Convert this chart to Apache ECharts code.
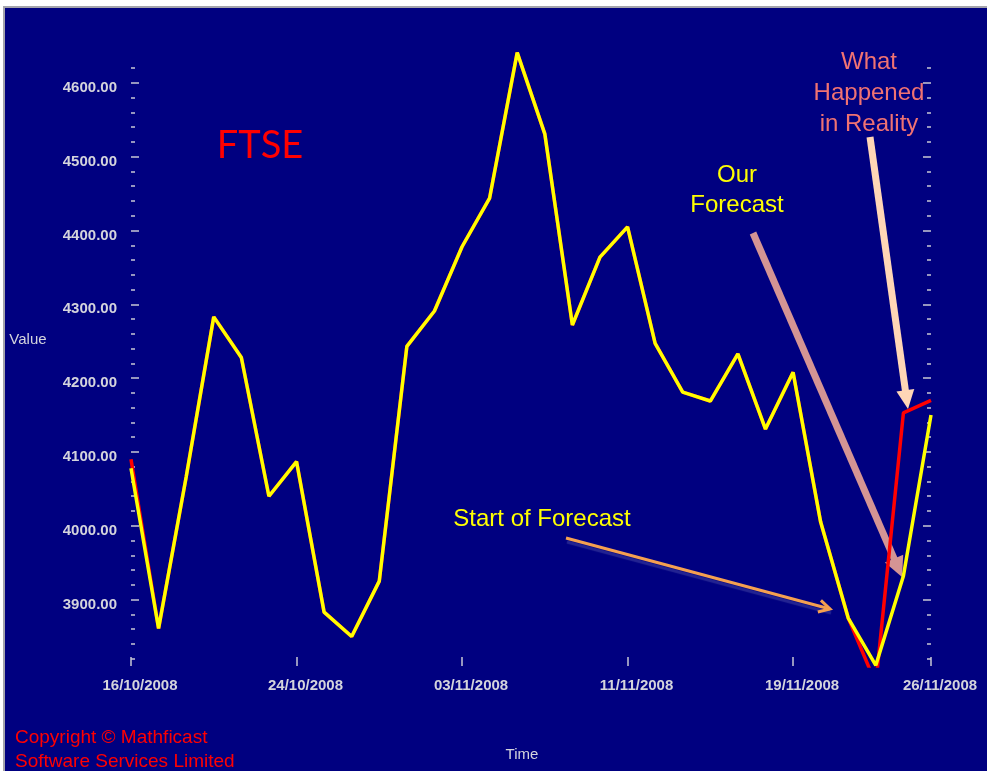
<!DOCTYPE html>
<html>
<head>
<meta charset="utf-8">
<script src="https://cdn.jsdelivr.net/npm/echarts@6/dist/echarts.min.js"></script>
<style>
  html, body { margin: 0; padding: 0; background: #fff; }
  #chart { width: 987px; height: 771px; }
</style>
</head>
<body>
<div id="chart"></div>
<script>
// trading days, first to last
var dates = ['16/10/2008','17/10/2008','20/10/2008','21/10/2008','22/10/2008','23/10/2008','24/10/2008',
  '27/10/2008','28/10/2008','29/10/2008','30/10/2008','31/10/2008','03/11/2008','04/11/2008','05/11/2008',
  '06/11/2008','07/11/2008','10/11/2008','11/11/2008','12/11/2008','13/11/2008','14/11/2008','17/11/2008',
  '18/11/2008','19/11/2008','20/11/2008','21/11/2008','24/11/2008','25/11/2008','26/11/2008'];
var shownDates = [0, 6, 12, 18, 24, 29];

// yellow line (our forecast)
var forecastValues = [4078, 3861, 4066, 4283, 4228, 4040, 4087, 3883, 3850, 3925, 4243, 4291, 4378, 4444, 4641,
  4531, 4272, 4364, 4405, 4247, 4181, 4169, 4233, 4131, 4208, 4005, 3875, 3811, 3932, 4150];
// red line (what happened)
var realityValues = [4090, 3861, 4066, 4283, 4228, 4040, 4087, 3883, 3850, 3925, 4243, 4291, 4378, 4444, 4641,
  4531, 4272, 4364, 4405, 4247, 4181, 4169, 4233, 4131, 4208, 4005, 3875, 3786, 4153, 4170];

var majorTicks = [3900, 4000, 4100, 4200, 4300, 4400, 4500, 4600];
var minorTicks = [3820, 3840, 3860, 3880, 3920, 3940, 3960, 3980, 4020, 4040, 4060, 4080, 4120, 4140, 4160, 4180,
  4220, 4240, 4260, 4280, 4320, 4340, 4360, 4380, 4420, 4440, 4460, 4480, 4520, 4540, 4560, 4580, 4620];

var tickColor = '#c8c8d4';
var labelColor = '#d4d4dc';

var chart = echarts.init(document.getElementById('chart'));

function yAx(pos, ticks, len, labels) {
    return {
        type: 'value',
        position: pos,
        min: 3810,
        max: 4650,
        axisLine: { show: false },
        splitLine: { show: false },
        axisTick: {
            show: true,
            inside: true,
            length: len,
            customValues: ticks,
            lineStyle: { color: tickColor, width: 1.5 }
        },
        axisLabel: {
            show: labels,
            customValues: ticks,
            margin: 14,
            verticalAlign: 'top',
            lineHeight: 10,
            color: labelColor,
            fontFamily: 'Liberation Sans',
            fontWeight: 'bold',
            fontSize: 15,
            formatter: function (v) { return v.toFixed(2); }
        }
    };
}

// arrow drawn as a shaft plus a head
function arrow(x1, y1, x2, y2, color, width, headLen, headHalf, open) {
    var dx = x2 - x1, dy = y2 - y1;
    var L = Math.sqrt(dx * dx + dy * dy);
    var ux = dx / L, uy = dy / L;
    var px = -uy, py = ux;
    var bx = x2 - ux * headLen, by = y2 - uy * headLen;
    var els = [];
    if (open) {
        els.push({ type: 'line', silent: true, shape: { x1: x1, y1: y1, x2: x2, y2: y2 },
            style: { stroke: color, lineWidth: width, shadowColor: 'rgba(120,120,190,0.3)', shadowOffsetX: 1, shadowOffsetY: 4, shadowBlur: 1 } });
        els.push({ type: 'polyline', silent: true,
            shape: { points: [[bx + px * headHalf, by + py * headHalf], [x2, y2], [bx - px * headHalf, by - py * headHalf]] },
            style: { stroke: color, lineWidth: width, fill: null } });
    } else {
        els.push({ type: 'line', silent: true, shape: { x1: x1, y1: y1, x2: bx + ux * 2, y2: by + uy * 2 },
            style: { stroke: color, lineWidth: width } });
        els.push({ type: 'polygon', silent: true,
            shape: { points: [[bx + px * headHalf, by + py * headHalf], [x2, y2], [bx - px * headHalf, by - py * headHalf]] },
            style: { fill: color } });
    }
    return els;
}

function txt(x, y, text, color, size, family, weight) {
    return {
        type: 'text', silent: true, x: x, y: y,
        style: {
            text: text, fill: color, align: 'center', verticalAlign: 'middle',
            font: (weight || 'normal') + ' ' + size + 'px "' + (family || 'Liberation Sans') + '"'
        }
    };
}

var graphics = [
    { type: 'rect', silent: true, shape: { x: 0, y: 0, width: 987, height: 6 }, style: { fill: '#fff' } },
    { type: 'rect', silent: true, shape: { x: 0, y: 0, width: 3, height: 771 }, style: { fill: '#fff' } },
    { type: 'line', silent: true, shape: { x1: 3, y1: 7, x2: 987, y2: 7 }, style: { stroke: '#a4a4ac', lineWidth: 2 } },
    { type: 'line', silent: true, shape: { x1: 4, y1: 6, x2: 4, y2: 771 }, style: { stroke: '#a4a4ac', lineWidth: 2 } },
    txt(260, 146, 'FTSE', '#ff0000', 38, 'Lato'),
    txt(28, 340, 'Value', labelColor, 15),
    txt(522, 755, 'Time', labelColor, 15),
    txt(542, 519, 'Start of Forecast', '#ffff00', 24),
    txt(737, 175, 'Our', '#ffff00', 24),
    txt(737, 205, 'Forecast', '#ffff00', 24),
    txt(869, 62, 'What', '#f07272', 24),
    txt(869, 93, 'Happened', '#f07272', 24),
    txt(869, 124, 'in Reality', '#f07272', 24),
    {
        type: 'text', silent: true, x: 15, y: 738,
        style: { text: 'Copyright © Mathficast', fill: '#ff0000', verticalAlign: 'middle', font: '19px "Liberation Sans"' }
    },
    {
        type: 'text', silent: true, x: 15, y: 762,
        style: { text: 'Software Services Limited', fill: '#ff0000', verticalAlign: 'middle', font: '19px "Liberation Sans"' }
    }
];
graphics = graphics
    .concat(arrow(566, 538, 830, 609, '#f5a050', 3, 11, 6, true))
    .concat(arrow(753, 233, 902, 577, '#d49494', 7, 20, 10, false))
    .concat(arrow(870, 137, 908, 409, '#ffd6b6', 7, 19, 9, false));

var option = {
    backgroundColor: '#000080',
    animation: false,
    grid: { left: 131, right: 56, top: 46, bottom: 105 },
    xAxis: {
        type: 'category',
        data: dates,
        boundaryGap: false,
        axisLine: { show: false },
        splitLine: { show: false },
        axisTick: {
            show: true,
            inside: true,
            length: 9,
            interval: function (i) { return shownDates.indexOf(i) >= 0; },
            lineStyle: { color: tickColor, width: 1.5 }
        },
        axisLabel: {
            interval: function (i) { return shownDates.indexOf(i) >= 0; },
            margin: 12,
            padding: [0, 0, 0, 18],
            color: labelColor,
            fontFamily: 'Liberation Sans',
            fontWeight: 'bold',
            fontSize: 15
        }
    },
    yAxis: [
        yAx('left', majorTicks, 8, true),
        yAx('left', minorTicks, 4, false),
        yAx('right', majorTicks, 8, false),
        yAx('right', minorTicks, 4, false)
    ],
    series: [
        {
            name: 'Reality',
            type: 'line',
            data: realityValues,
            showSymbol: false,
            symbol: 'none',
            lineStyle: { color: '#ff0000', width: 3.5 }
        },
        {
            name: 'Forecast',
            type: 'line',
            data: forecastValues,
            showSymbol: false,
            symbol: 'none',
            lineStyle: { color: '#ffff00', width: 3.5 }
        }
    ],
    graphic: graphics
};

chart.setOption(option);
</script>
</body>
</html>
